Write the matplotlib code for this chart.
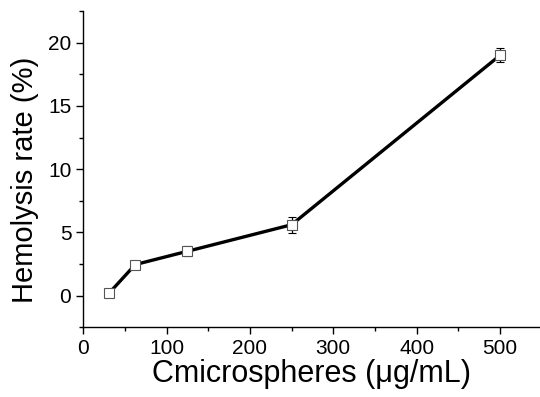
import matplotlib
matplotlib.use("Agg")
import matplotlib.pyplot as plt
from matplotlib.ticker import MultipleLocator

plt.rcParams['font.family'] = ['Liberation Sans', 'DejaVu Sans']

conc = [31.25, 62.5, 125, 250, 500]
hemolysis = [0.2, 2.45, 3.5, 5.6, 19.0]
err = [0.3, 0.25, 0.4, 0.65, 0.55]

fig = plt.figure(figsize=(5.4, 3.97), dpi=100)
ax = fig.add_axes([0.154, 0.176, 0.846, 0.796])

ax.errorbar(conc, hemolysis, yerr=err, color='black', lw=2.4,
            marker='s', ms=7.5, mfc='white', mec='#555555', mew=0.8,
            ecolor='black', elinewidth=0.9, capsize=3, capthick=0.9)

ax.set_xlim(0, 548)
ax.set_ylim(-2.5, 22.5)
ax.xaxis.set_major_locator(MultipleLocator(100))
ax.xaxis.set_minor_locator(MultipleLocator(50))
ax.yaxis.set_major_locator(MultipleLocator(5))
ax.yaxis.set_minor_locator(MultipleLocator(2.5))
ax.tick_params(which='major', direction='out', length=5, width=1, labelsize=15)
ax.tick_params(which='minor', direction='out', length=3, width=1)

for s in ['top', 'right']:
    ax.spines[s].set_visible(False)
for s in ['left', 'bottom']:
    ax.spines[s].set_linewidth(1)

ax.set_xlabel('Cmicrospheres (\u03bcg/mL)', fontsize=22, labelpad=1)
ax.set_ylabel('Hemolysis rate (%)', fontsize=21)
ax.yaxis.set_label_coords(-0.096, 0.465)

fig.savefig('out.png', dpi=100)
